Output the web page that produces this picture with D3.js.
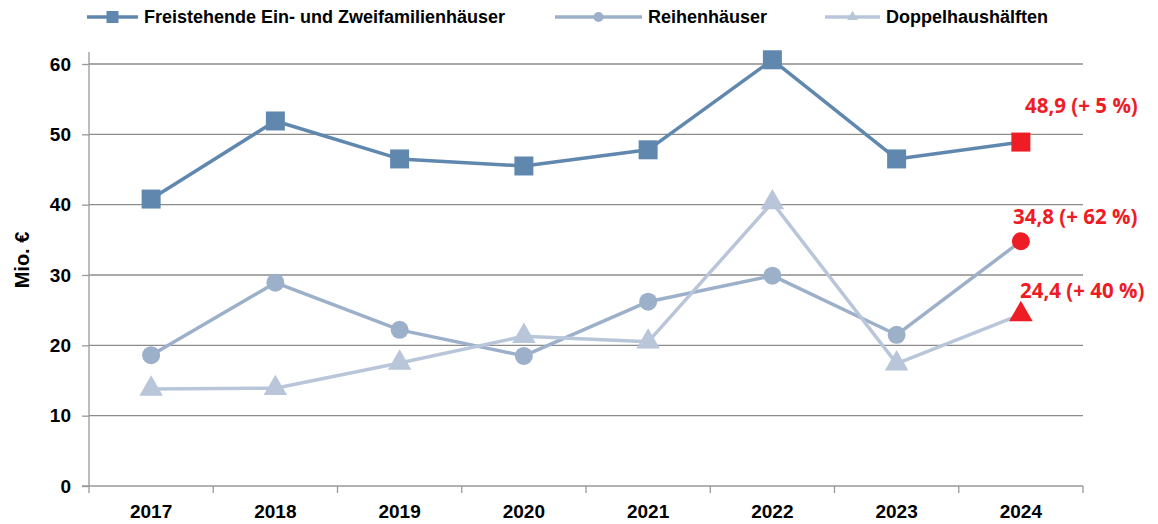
<!DOCTYPE html>
<html>
<head>
<meta charset="utf-8">
<script src="https://cdn.jsdelivr.net/npm/d3@7"></script>
<style>
  body { margin: 0; background: #fff; }
  svg { display: block; }
</style>
</head>
<body>
<div id="chart"></div>
<script>
// chart values
var years = ["2017", "2018", "2019", "2020", "2021", "2022", "2023", "2024"];
var freistehend = [40.8, 51.9, 46.5, 45.5, 47.8, 60.6, 46.5, 48.9];
var reihen = [18.6, 28.9, 22.2, 18.5, 26.2, 29.9, 21.5, 34.8];
var doppel = [13.8, 13.9, 17.5, 21.3, 20.5, 40.3, 17.4, 24.4];
var yTicks = [0, 10, 20, 30, 40, 50, 60];
var labels2024 = ["48,9 (+ 5 %)", "34,8 (+ 62 %)", "24,4 (+ 40 %)"];

(function() {
    var W = 1158, H = 524;
    var mLeft = 89, mRight = 1083, mTop = 64, mBottom = 486;
    var red = "#ee1c25";
    var font = "Liberation Sans, Arial, sans-serif";

    var svg = d3.select("#chart").append("svg")
        .attr("width", W)
        .attr("height", H);

    var x = d3.scaleBand().domain(years).range([mLeft, mRight]);
    var y = d3.scaleLinear().domain([0, 60]).range([mBottom, mTop]);
    var cx = function(d) { return x(d) + x.bandwidth() / 2; };

    // gridlines
    svg.append("g").selectAll("line")
        .data(yTicks.filter(function(t) { return t > 0; }))
        .enter().append("line")
        .attr("x1", mLeft).attr("x2", mRight)
        .attr("y1", function(d) { return y(d); })
        .attr("y2", function(d) { return y(d); })
        .attr("stroke", "#8c8c8c")
        .attr("stroke-width", 1.3);

    // y axis
    var yAxis = svg.append("g")
        .attr("transform", "translate(" + mLeft + ",0)")
        .call(d3.axisLeft(y).tickValues(yTicks).tickSize(7).tickPadding(11));
    yAxis.select(".domain").remove();
    yAxis.selectAll(".tick line").attr("stroke", "#999").attr("stroke-width", 1.3);
    yAxis.selectAll(".tick text")
        .attr("font-family", font)
        .attr("font-size", "19px")
        .attr("font-weight", "bold")
        .attr("fill", "#000");
    svg.append("line")
        .attr("x1", mLeft).attr("x2", mLeft)
        .attr("y1", y(61.7)).attr("y2", mBottom)
        .attr("stroke", "#999").attr("stroke-width", 1.3);

    // x axis
    svg.append("line")
        .attr("x1", mLeft - 7).attr("x2", mRight)
        .attr("y1", mBottom).attr("y2", mBottom)
        .attr("stroke", "#999").attr("stroke-width", 1.3);
    var edges = years.map(function(d) { return x(d); }).concat([mRight]);
    svg.append("g").selectAll("line")
        .data(edges)
        .enter().append("line")
        .attr("x1", function(d) { return d; })
        .attr("x2", function(d) { return d; })
        .attr("y1", mBottom).attr("y2", mBottom + 7)
        .attr("stroke", "#999").attr("stroke-width", 1.3);
    svg.append("g").selectAll("text")
        .data(years)
        .enter().append("text")
        .text(function(d) { return d; })
        .attr("x", cx)
        .attr("y", 518)
        .attr("text-anchor", "middle")
        .attr("font-family", font)
        .attr("font-size", "19px")
        .attr("font-weight", "bold");

    // y label
    svg.append("text")
        .text("Mio. €")
        .attr("transform", "translate(29,260) rotate(-90)")
        .attr("text-anchor", "middle")
        .attr("font-family", font)
        .attr("font-size", "20px")
        .attr("font-weight", "bold");

    var series = [
        { name: "Freistehende Ein- und Zweifamilienhäuser", values: freistehend, color: "#6088af", shape: d3.symbolSquare, size: 19 * 19, legSize: 12 * 12 },
        { name: "Reihenhäuser", values: reihen, color: "#9cb0ca", shape: d3.symbolCircle, size: Math.PI * 9 * 9, legSize: Math.PI * 5 * 5 },
        { name: "Doppelhaushälften", values: doppel, color: "#b9c6da", shape: d3.symbolTriangle, size: 240, legSize: 50 }
    ];

    var line = d3.line()
        .x(function(d) { return cx(d.year); })
        .y(function(d) { return y(d.v); });

    series.forEach(function(s) {
        var pts = years.map(function(yr, i) { return { year: yr, v: s.values[i] }; });
        svg.append("path")
            .attr("d", line(pts))
            .attr("fill", "none")
            .attr("stroke", s.color)
            .attr("stroke-width", 3.5)
            .attr("stroke-linejoin", "round");
        svg.append("g").selectAll("path")
            .data(pts)
            .enter().append("path")
            .attr("d", d3.symbol().type(s.shape).size(s.size))
            .attr("transform", function(d) {
                return "translate(" + cx(d.year) + "," + y(d.v) + ")";
            })
            .attr("fill", function(d, i) { return i === years.length - 1 ? red : s.color; });
    });

    // 2024 annotations
    var annot = [
        { text: labels2024[0], x: 1025, y: 113 },
        { text: labels2024[1], x: 1013, y: 224 },
        { text: labels2024[2], x: 1020, y: 298 }
    ];
    svg.append("g").selectAll("text")
        .data(annot)
        .enter().append("text")
        .text(function(d) { return d.text; })
        .attr("x", function(d) { return d.x; })
        .attr("y", function(d) { return d.y; })
        .attr("fill", red)
        .attr("font-family", "Open Sans, sans-serif")
        .attr("font-size", "20.5px")
        .attr("font-weight", "bold");

    // legend
    var legX = [87, 555, 825];
    var legLen = [51, 87, 55];
    series.forEach(function(s, i) {
        var g = svg.append("g");
        g.append("line")
            .attr("x1", legX[i]).attr("x2", legX[i] + legLen[i])
            .attr("y1", 17).attr("y2", 17)
            .attr("stroke", s.color).attr("stroke-width", 3.5);
        g.append("path")
            .attr("d", d3.symbol().type(s.shape).size(s.legSize))
            .attr("transform", "translate(" + (legX[i] + legLen[i] / 2) + ",17)")
            .attr("fill", s.color);
        g.append("text")
            .text(s.name)
            .attr("x", legX[i] + legLen[i] + 6)
            .attr("y", 23)
            .attr("font-family", font)
            .attr("font-size", "18px")
            .attr("font-weight", "bold");
    });
})();
</script>
</body>
</html>
